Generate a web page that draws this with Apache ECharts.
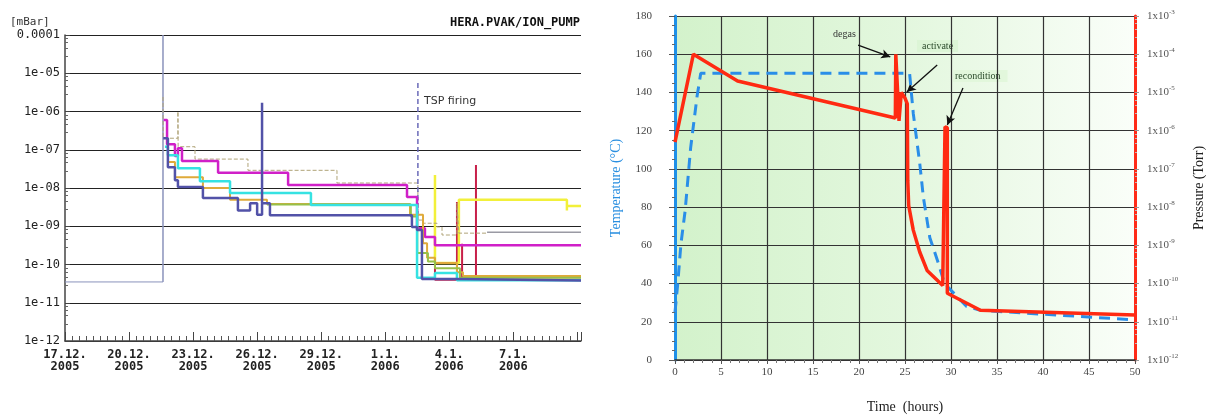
<!DOCTYPE html>
<html><head><meta charset="utf-8">
<script src="https://cdn.jsdelivr.net/npm/echarts@6/dist/echarts.min.js"></script>
<style>html,body{margin:0;padding:0;background:#fff}#c{width:1206px;height:415px}</style>
</head><body><div id="c"></div>
<script>
// ================= LEFT CHART: HERA.PVAK/ION_PUMP (x = days since 17.12.2005, y = mbar)
const startDate = [2005, 11, 17];
const grayDays    = [0, 4.59, 4.59];
const grayP       = [3.5e-11, 1e-4, 3.5e-11];
const magentaDays = [4.62, 4.78, 5.15, 5.29, 5.48, 7.17, 10.45, 16.02, 16.49, 16.86, 17.33, 24.17];
const magentaP    = [6e-7, 1.4e-7, 6.9e-8, 1.1e-7, 5.1e-8, 2.5e-8, 1.2e-8, 5.8e-9, 8.9e-10, 5.2e-10, 3.2e-10, 3.2e-10];
const cyanDays    = [4.68, 4.82, 5.29, 6.32, 7.73, 11.52, 16.49, 17.33, 18.36, 24.17];
const cyanP       = [1.2e-7, 7.2e-8, 3.3e-8, 1.5e-8, 7.4e-9, 3.6e-9, 4.5e-11, 6.0e-11, 3.9e-11, 3.9e-11];
const orangeDays  = [4.78, 5.15, 6.46, 7.73, 9.46, 16.16, 16.77, 16.96, 17.33, 18.36, 18.64, 24.17];
const orangeP     = [4.8e-8, 1.9e-8, 1e-8, 4.9e-9, 3.8e-9, 2.0e-9, 3.6e-10, 1.5e-10, 1.1e-10, 6.3e-11, 5e-11, 5e-11];
const greenDays   = [9.46, 16.2, 16.5, 17.0, 17.33, 18.5, 24.17];
const greenP      = [3.7e-9, 1.8e-9, 2e-10, 1.2e-10, 8e-11, 4.5e-11, 4.5e-11];
const navyDays    = [4.6, 4.82, 5.15, 5.29, 6.46, 8.10, 8.67, 9.0, 9.23, 9.23, 9.6, 16.25, 16.49, 16.72, 18.36, 24.17];
const navyP       = [2e-7, 3.5e-8, 1.6e-8, 1.07e-8, 5.5e-9, 2.6e-9, 4.0e-9, 2e-9, 1.7e-6, 4e-9, 1.95e-9, 9.5e-10, 8e-10, 4.2e-11, 3.8e-11, 3.7e-11];
const khakiDays   = [4.59, 4.6, 5.29, 5.3, 6.09, 8.57, 12.74, 16.53, 16.77, 17.42, 17.66, 18.36, 18.45, 19.77];
const khakiP      = [2.4e-6, 2e-7, 1e-6, 1.2e-7, 5.7e-8, 2.9e-8, 1.35e-8, 1.45e-9, 1.2e-9, 9.6e-10, 5.9e-10, 4e-9, 6.6e-10, 7e-10];
const grayEndDays = [19.77, 24.17];
const grayEndP    = [7e-10, 7e-10];
const tspDays     = [16.53, 16.53];
const tspP        = [5.6e-6, 1.5e-9];
const yellowDays  = [17.33, 17.33, 18.45, 23.51, 23.51, 24.17];
const yellowP     = [2.2e-8, 1.1e-10, 4.9e-9, 2.6e-9, 3.4e-9, 3.4e-9];
const crimsonDays = [17.33, 17.33, 18.36, 18.36, 18.6, 18.6, 19.25, 19.25, 24.17];
const crimsonP    = [1.7e-9, 4e-11, 4.3e-9, 4e-11, 3.5e-10, 4e-11, 4e-8, 4e-11, 4e-11];

// ================= RIGHT CHART: bake-out (x = hours)
const tempHours = [0, 0.3, 0.65, 1.1, 1.7, 2.4, 2.8, 25.5, 25.9, 26.6, 27.0, 27.7, 28.6, 29.3, 31.7, 33.2, 50];
const tempC     = [25, 40, 61, 78, 111, 138, 150, 150, 129, 103, 85, 64, 51, 40, 28, 26, 21];
const presHours = [0, 2.0, 6.8, 23.95, 24.0, 24.35, 24.55, 24.6, 25.0, 25.25, 25.3, 25.4, 25.9, 26.6, 27.4, 29.1, 29.3, 29.35, 29.6, 29.6, 33.2, 50];
const presTorr  = [5e-7, 1e-4, 2e-5, 2.14e-6, 1e-4, 1.8e-6, 1.8e-6, 1e-5, 7.1e-6, 5e-6, 5e-8, 1.1e-8, 2.5e-9, 6.7e-10, 2.2e-10, 8.9e-11, 7.9e-11, 1.26e-6, 1.2e-6, 5.6e-11, 2e-11, 1.5e-11];
const annotations = [
  {text: 'degas',       from: [19.9, 164.8], to: [23.4, 158.6]},
  {text: 'activate',    from: [28.5, 154.4], to: [25.2, 140.2]},
  {text: 'recondition', from: [31.3, 142.3], to: [29.6, 123.0]}
];

const zip = (a, b) => a.map((v, i) => [v, b[i]]);
const chart = echarts.init(document.getElementById('c'), null, {renderer: 'canvas'});

function stepSeries(name, days, vals, color, width, extra) {
  return Object.assign({
    name, type: 'line', xAxisIndex: 0, yAxisIndex: 0, step: 'end', showSymbol: false,
    data: zip(days, vals), lineStyle: {color, width}, itemStyle: {color}, animation: false
  }, extra || {});
}

const mono = 'DejaVu Sans Mono';
const serif = 'Liberation Serif';

const option = {
  animation: false,
  grid: [
    {left: 65, right: 625, top: 35, bottom: 74, outerBoundsMode: 'none'},
    {left: 675, right: 71, top: 16, bottom: 55, show: true, borderWidth: 0, outerBoundsMode: 'none',
     backgroundColor: new echarts.graphic.LinearGradient(0, 0, 1, 0, [
       {offset: 0, color: '#d3f2cb'}, {offset: 0.5, color: '#e3f7de'}, {offset: 1, color: '#fafef9'}])}
  ],
  xAxis: [
    {gridIndex: 0, type: 'value', min: 0, max: 24.17, interval: 3,
     axisLine: {lineStyle: {color: '#444', width: 1.5}},
     axisTick: {inside: true, length: 9, lineStyle: {color: '#444'}},
     minorTick: {show: true, splitNumber: 9, length: 5, lineStyle: {color: '#555'}},
     splitLine: {show: false},
     axisLabel: {fontFamily: mono, fontSize: 12, fontWeight: 'bold', color: '#222', lineHeight: 12, margin: 8,
       formatter: v => { if (v > 23) return ''; const d = new Date(startDate[0], startDate[1], startDate[2] + Math.round(v));
         return d.getDate() + '.' + (d.getMonth() + 1) + '.\n' + d.getFullYear(); }}},
    {gridIndex: 1, type: 'value', min: 0, max: 50, interval: 5,
     name: 'Time  (hours)', nameLocation: 'middle', nameGap: 40,
     nameTextStyle: {fontFamily: serif, fontSize: 14, color: '#222'},
     axisLine: {lineStyle: {color: '#333', width: 1.5}},
     axisTick: {length: 4, lineStyle: {color: '#555'}},
     minorTick: {show: true, splitNumber: 5, length: 3, lineStyle: {color: '#777'}},
     splitLine: {show: true, lineStyle: {color: '#333', width: 1.2}},
     axisLabel: {fontFamily: serif, fontSize: 11, color: '#444', margin: 7}}
  ],
  yAxis: [
    {gridIndex: 0, type: 'log', logBase: 10, min: 1e-12, max: 1e-4, splitNumber: 8,
     axisLine: {show: true, lineStyle: {color: '#444', width: 1.5}},
     axisTick: {inside: true, length: 5, lineStyle: {color: '#444'}},
     minorTick: {show: true, splitNumber: 5, length: 3, lineStyle: {color: '#666'}},
     splitLine: {show: true, lineStyle: {color: '#222', width: 1}},
     axisLabel: {fontFamily: mono, fontSize: 12, color: '#222', margin: 5,
       formatter: v => { const e = Math.round(Math.log10(v)); return e === -4 ? '0.0001' : '1e-' + String(-e).padStart(2, '0'); }}},
    {gridIndex: 1, type: 'value', min: 0, max: 180, interval: 20,
     name: 'Temperature (°C)', nameLocation: 'middle', nameGap: 52, nameRotate: 90,
     nameTextStyle: {fontFamily: serif, fontSize: 14, color: '#2a8fe0'},
     axisLine: {show: true, lineStyle: {color: '#1e90e8', width: 3}},
     axisTick: {length: 6, lineStyle: {color: '#555'}},
     minorTick: {show: true, splitNumber: 4, length: 3, lineStyle: {color: '#666'}},
     splitLine: {show: true, lineStyle: {color: '#333', width: 1.2}},
     axisLabel: {fontFamily: serif, fontSize: 11, color: '#444', margin: 23}},
    {gridIndex: 1, type: 'log', logBase: 10, min: 1e-12, max: 1e-3, splitNumber: 9, position: 'right',
     name: 'Pressure (Torr)', nameLocation: 'middle', nameGap: 57, nameRotate: 90,
     nameTextStyle: {fontFamily: serif, fontSize: 14, color: '#222'},
     axisLine: {show: true, lineStyle: {color: '#ff2a18', width: 3}},
     axisTick: {length: 4, lineStyle: {color: '#999'}},
     minorTick: {show: true, splitNumber: 5, length: 2, lineStyle: {color: '#bbb'}},
     splitLine: {show: false},
     axisLabel: {fontFamily: serif, fontSize: 11, color: '#555', margin: 12,
       formatter: v => '1x10{s|' + Math.round(Math.log10(v)) + '}',
       rich: {s: {fontFamily: serif, fontSize: 7, color: '#555', padding: [0, 0, 8, 0]}}}}
  ],
  series: [
    stepSeries('gray', grayDays, grayP, '#8a92bc', 1, {z: 2}),
    stepSeries('crimson', crimsonDays, crimsonP, '#c8204a', 2, {z: 2}),
    stepSeries('yellow', yellowDays, yellowP, '#f2f03a', 2.5, {z: 2}),
    stepSeries('khaki', khakiDays, khakiP, '#b0a478', 1, {z: 3, lineStyle: {color: '#b0a478', width: 1, type: [4, 2]}}),
    stepSeries('grayEnd', grayEndDays, grayEndP, '#9a9aa4', 1.5, {z: 3}),
    stepSeries('tsp', tspDays, tspP, '#6060b8', 1.5, {z: 3, lineStyle: {color: '#6a6ab8', width: 1.5, type: [5, 3]}}),
    stepSeries('magenta', magentaDays, magentaP, '#d020c8', 2.5, {z: 4}),
    stepSeries('orange', orangeDays, orangeP, '#dfaa3a', 2, {z: 4}),
    stepSeries('green', greenDays, greenP, '#96c04a', 2, {z: 4}),
    stepSeries('cyan', cyanDays, cyanP, '#36e2e2', 2.5, {z: 5}),
    stepSeries('navy', navyDays, navyP, '#5252a8', 2.5, {z: 5}),
    {name: 'Temperature', type: 'line', xAxisIndex: 1, yAxisIndex: 1, showSymbol: false,
     data: zip(tempHours, tempC), lineStyle: {color: '#2a8ee8', width: 3, type: [11, 7]}, z: 5,
     markLine: {silent: true, symbol: ['none', 'arrow'], symbolSize: [7, 9], label: {show: false},
       lineStyle: {color: '#111', width: 1.3, type: 'solid'},
       data: annotations.map(a => [{coord: a.from}, {coord: a.to}])}},
    {name: 'Pressure', type: 'line', xAxisIndex: 1, yAxisIndex: 2, showSymbol: false,
     data: zip(presHours, presTorr), lineStyle: {color: '#ff2a12', width: 3.5}, z: 6}
  ],
  graphic: [
    {type: 'text', left: 10, top: 17, style: {text: '[mBar]', font: '11px "DejaVu Sans Mono"', fill: '#333'}},
    {type: 'text', right: 626, top: 17, style: {text: 'HERA.PVAK/ION_PUMP', font: 'bold 12px "DejaVu Sans Mono"', fill: '#111'}},
    {type: 'text', left: 424, top: 96, style: {text: 'TSP firing', font: '11px "DejaVu Sans"', fill: '#333'}},
    {type: 'text', left: 833, top: 29, style: {text: 'degas', font: '10px "Liberation Serif"', fill: '#333'}},
    {type: 'text', left: 917, top: 40, style: {text: 'activate', font: '10px "Liberation Serif"', fill: '#2a4a2a', backgroundColor: '#dcf5d6', padding: [1, 5, 1, 5]}},
    {type: 'text', left: 953, top: 70, style: {text: 'recondition', font: '10px "Liberation Serif"', fill: '#2a4a2a', backgroundColor: '#e2f7dc', padding: [1, 7, 1, 2]}}
  ]
};
chart.setOption(option);
</script></body></html>
